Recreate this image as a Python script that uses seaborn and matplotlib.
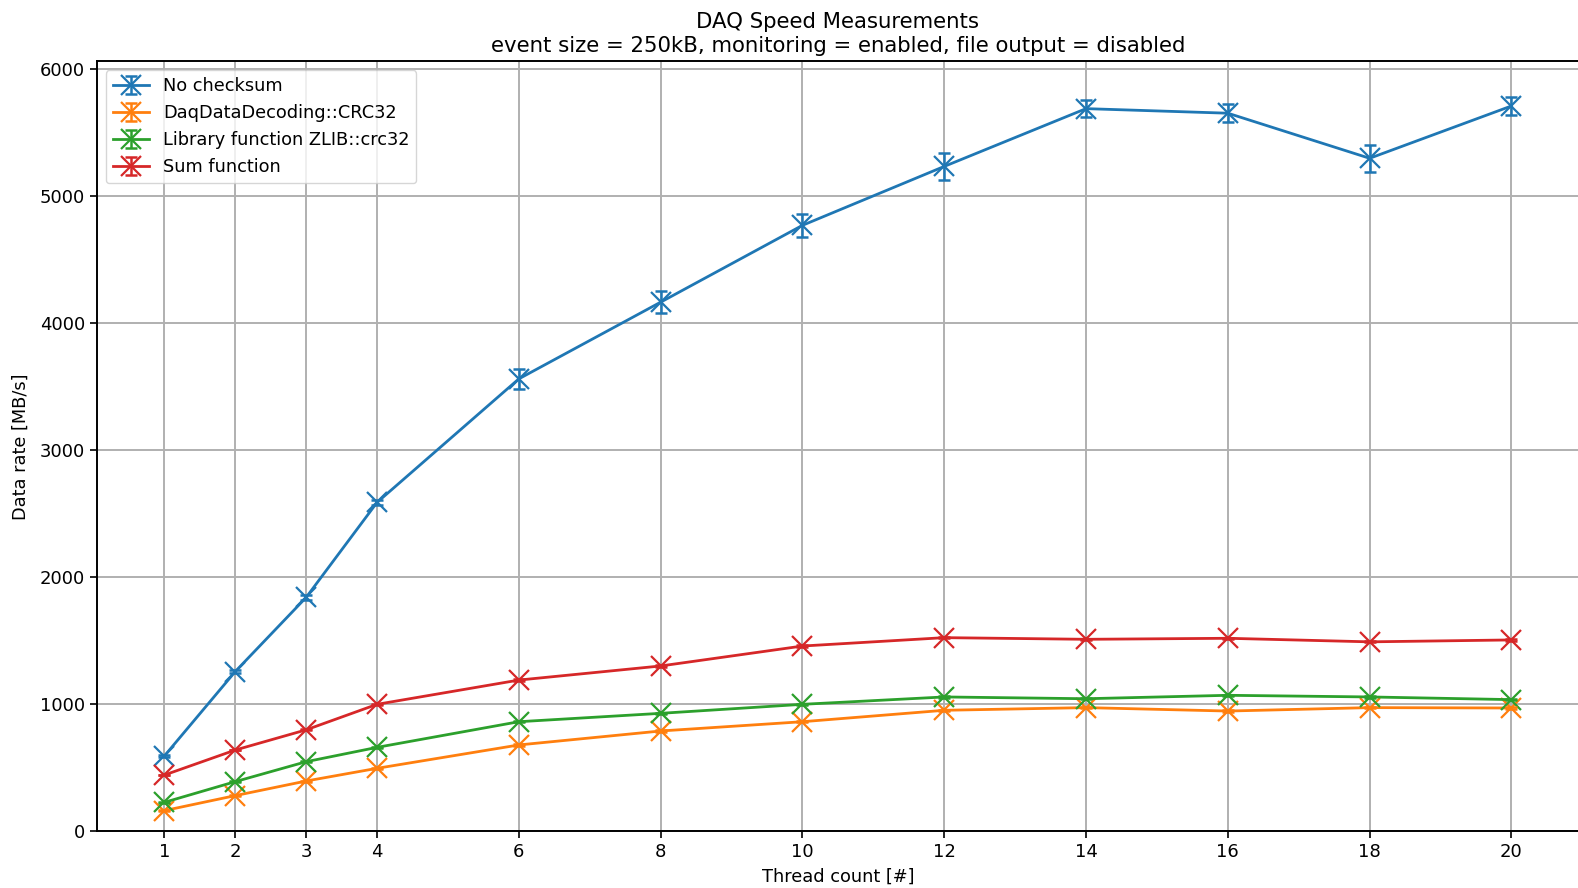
import matplotlib
matplotlib.use("Agg")
import matplotlib.pyplot as plt
import seaborn as sns
import pandas as pd
from matplotlib.legend_handler import HandlerTuple

threads = [1, 2, 3, 4, 6, 8, 10, 12, 14, 16, 18, 20]
series_names = ["No checksum", "DaqDataDecoding::CRC32",
                "Library function ZLIB::crc32", "Sum function"]

no_checksum = [593, 1258, 1842, 2590, 3563, 4167, 4772, 5236, 5691, 5655, 5300, 5712]
no_checksum_err = [8, 12, 18, 22, 79, 85, 93, 109, 68, 72, 105, 72]

crc32_daq = [163, 281, 396, 496, 680, 790, 863, 953, 974, 947, 974, 971]
crc32_daq_err = [3, 3, 4, 4, 5, 5, 5, 5, 5, 5, 5, 5]

crc32_zlib = [228, 391, 548, 661, 863, 929, 1000, 1058, 1044, 1071, 1058, 1037]
crc32_zlib_err = [3, 3, 4, 4, 5, 5, 5, 5, 5, 5, 5, 5]

sum_func = [443, 640, 799, 1000, 1191, 1302, 1459, 1525, 1512, 1520, 1492, 1507]
sum_func_err = [3, 3, 4, 4, 5, 5, 5, 5, 5, 5, 5, 5]

values = [no_checksum, crc32_daq, crc32_zlib, sum_func]
errors = [no_checksum_err, crc32_daq_err, crc32_zlib_err, sum_func_err]
colors = ["#1f77b4", "#ff7f0e", "#2ca02c", "#d62728"]

rows = []
for name, vals in zip(series_names, values):
    for t, v in zip(threads, vals):
        rows.append({"threads": t, "rate": v, "series": name})
df = pd.DataFrame(rows)

plt.rcParams["font.family"] = ["DejaVu Sans"]
fig = plt.figure(figsize=(15.78, 8.88), dpi=100)
ax = fig.add_axes([97 / 1578, 1 - 831.3 / 888, 1 - 97 / 1578 + 0.0005, (831.3 - 61.4) / 888])

sns.lineplot(data=df, x="threads", y="rate", hue="series", hue_order=series_names,
             palette=colors, marker="x", markersize=14, markeredgewidth=1.6,
             linewidth=2.0, legend=False, ax=ax, sort=False)

handles = []
for name, vals, errs, c, line in zip(series_names, values, errors, colors, ax.lines[:4]):
    line.set_markeredgecolor(c)
    line.set_markerfacecolor(c)
    cont = ax.errorbar(threads, vals, yerr=errs, fmt="none", ecolor=c,
                       elinewidth=1.8, capsize=4, capthick=1.8)
    handles.append((line, cont))

ax.legend(handles, series_names, loc="upper left", fontsize=12.8,
          handler_map={tuple: HandlerTuple(ndivide=1)},
          handlelength=2.0, borderpad=0.4, labelspacing=0.5)

ax.set_xlim(0.05, 20.95)
ax.set_ylim(0, 6063)
ax.set_xticks(threads)
ax.set_yticks([0, 1000, 2000, 3000, 4000, 5000, 6000])
ax.tick_params(labelsize=13, length=5, width=1.2)
ax.grid(True, color="#b0b0b0", linewidth=1.4)
ax.set_axisbelow(True)
for s in ax.spines.values():
    s.set_linewidth(1.4)
ax.set_xlabel("Thread count [#]", fontsize=12.8, labelpad=5)
ax.set_ylabel("Data rate [MB/s]", fontsize=12.8, labelpad=7)
ax.set_title("DAQ Speed Measurements\nevent size = 250kB, monitoring = enabled, file output = disabled",
             fontsize=15.3, pad=7)

fig.savefig("out.png", dpi=100)
